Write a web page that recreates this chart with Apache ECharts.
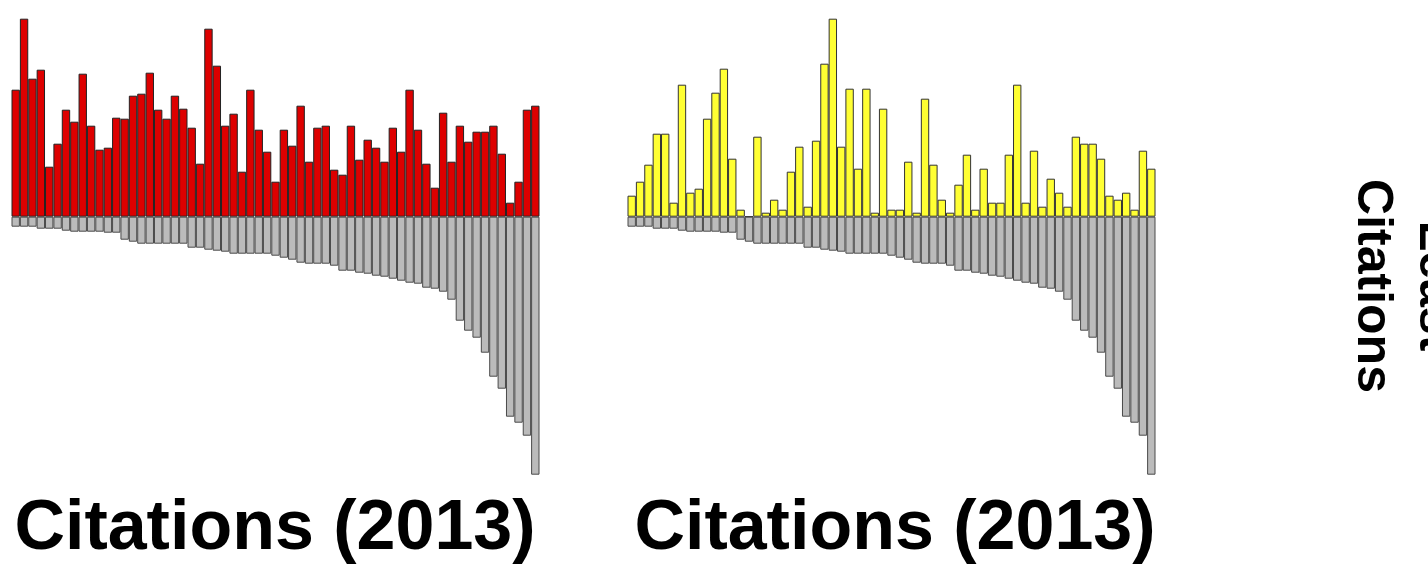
<!DOCTYPE html>
<html>
<head>
<meta charset="utf-8">
<script src="https://cdn.jsdelivr.net/npm/echarts@6/dist/echarts.min.js"></script>
<style>
html,body{margin:0;padding:0;background:#fff;}
#c{width:1428px;height:565px;}
</style>
</head>
<body>
<div id="c"></div>
<script>
// Per-journal values (left panel: red, right panel: yellow)
const categories = Array.from({length: 63}, (_, i) => 'J' + (i + 1));
const redValues = [127,198,138,147,50,73,107,95,143,91,67,69,99,98,121,123,144,107,98,121,108,89,53,188,151,91,103,45,127,87,65,35,87,71,111,55,89,91,47,42,91,57,77,69,55,89,65,127,87,53,29,104,55,91,75,85,85,91,63,14,35,107,111];
const yellowValues = [21,35,52,83,83,14,132,24,28,98,124,148,58,7,0,80,4,17,7,45,70,10,76,153,198,70,128,48,128,4,108,7,7,55,4,118,52,17,4,32,62,7,48,14,14,62,132,14,66,10,38,24,10,80,73,73,58,21,17,24,7,66,48];
// Citations (2013), sorted ascending, drawn downward
const citationValues = [10,10,10,12,12,12,14,15,15,15,15,16,16,23,25,27,27,27,27,27,27,31,31,33,34,35,37,37,37,37,37,39,41,43,46,47,47,47,49,54,54,56,57,59,60,62,64,66,67,71,72,75,83,104,114,121,136,160,172,200,206,219,258];
const panelTitles = ['Citations (2013)', 'Citations (2013)'];
const sideLabel = 'Least\nCitations';

const chart = echarts.init(document.getElementById('c'), null, {renderer: 'svg'});
const FONT = '"Liberation Sans", Arial, Helvetica, sans-serif';
const neg = citationValues.map(v => -v);

function grid(left) { return {left: left, top: 16.7, width: 528, height: 460}; }
function xAx(i) { return {type: 'category', gridIndex: i, data: categories, show: false, boundaryGap: true}; }
function yAx(i) { return {type: 'value', gridIndex: i, min: -260, max: 200, show: false, splitLine: {show: false}}; }
function bar(i, data, color, border, stack) {
  return {type: 'bar', xAxisIndex: i, yAxisIndex: i, data: data, stack: stack,
    barCategoryGap: 0, barGap: 0, silent: true, animation: false,
    itemStyle: {color: color, borderColor: border, borderWidth: 1}};
}

chart.setOption({
  animation: false,
  backgroundColor: '#ffffff',
  grid: [grid(11.5), grid(627.5)],
  xAxis: [xAx(0), xAx(1)],
  yAxis: [yAx(0), yAx(1)],
  series: [
    bar(0, redValues, '#dd0000', '#222222', 'a'),
    bar(0, neg, '#bbbbbb', '#4a4a4a', 'a'),
    bar(1, yellowValues, '#ffff33', '#333333', 'b'),
    bar(1, neg, '#bbbbbb', '#4a4a4a', 'b')
  ],
  graphic: [
    {type: 'text', x: 275, y: 525, style: {text: panelTitles[0], font: 'bold 70px ' + FONT, fill: '#000', align: 'center', verticalAlign: 'middle'}},
    {type: 'text', x: 895, y: 525, style: {text: panelTitles[1], font: 'bold 70px ' + FONT, fill: '#000', align: 'center', verticalAlign: 'middle'}},
    {type: 'text', x: 1406, y: 286, rotation: -Math.PI / 2, style: {text: sideLabel, font: 'bold 50px ' + FONT, fill: '#000', align: 'center', verticalAlign: 'middle', lineHeight: 62}}
  ]
});
</script>
</body>
</html>
